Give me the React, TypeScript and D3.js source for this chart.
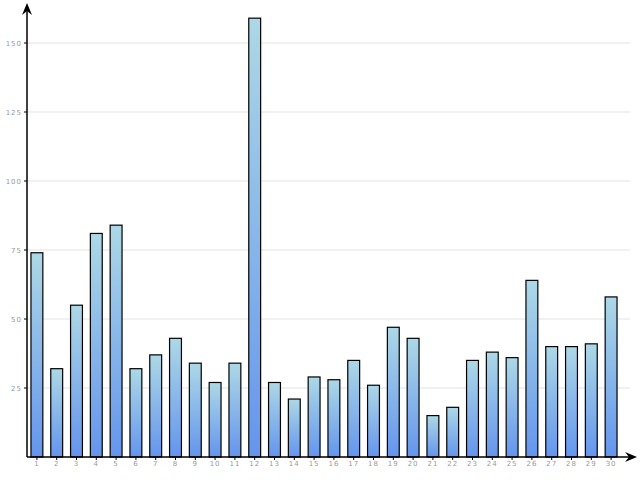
import React from "react";
import * as d3 from "d3";

const categories = Array.from({ length: 30 }, (_, i) => String(i + 1));
const values = [74, 32, 55, 81, 84, 32, 37, 43, 34, 27, 34, 159, 27, 21, 29, 28, 35, 26, 47, 43, 15, 18, 35, 38, 36, 64, 40, 40, 41, 58];
const yTicks = [25, 50, 75, 100, 125, 150];

export default function App() {
  const W = 640, H = 480;
  const x0 = 27, y0 = 457;
  const x = d3.scaleBand<string>().domain(categories).range([x0, x0 + 594]).paddingInner(0.4).paddingOuter(0.2);
  const y = d3.scaleLinear().domain([0, 25]).range([y0, y0 - 69]);
  return (
    <svg width={W} height={H} style={{ position: "absolute", left: 0, top: 0 }}>
      <defs>
        <linearGradient id="bg" x1="0" y1="0" x2="0" y2="1">
          <stop offset="0" stopColor="#add8e6" />
          <stop offset="1" stopColor="#6495ed" />
        </linearGradient>
      </defs>
      {yTicks.map((t) => (
        <g key={t}>
          <line x1={x0} x2={630} y1={y(t)} y2={y(t)} stroke="#e3e3e3" strokeWidth={1} />
          <line x1={x0 - 3} x2={x0} y1={y(t)} y2={y(t)} stroke="#000" strokeWidth={1} />
          <text x={x0 - 5} y={y(t) + 2.5} textAnchor="end" fontSize={7} letterSpacing={1} fill="#999" fontFamily="DejaVu Sans">{t}</text>
        </g>
      ))}
      {categories.map((c, i) => {
        const bx = x(c)!;
        const bw = x.bandwidth();
        return (
          <g key={c}>
            <rect x={bx} y={y(values[i])} width={bw} height={y0 - y(values[i])} fill="url(#bg)" stroke="#000" strokeWidth={1.2} />
            <line x1={bx + bw / 2} x2={bx + bw / 2} y1={y0} y2={y0 + 3} stroke="#000" />
            <text x={bx + bw / 2} y={y0 + 9} textAnchor="middle" fontSize={7} letterSpacing={1} fill="#999" fontFamily="DejaVu Sans">{c}</text>
          </g>
        );
      })}
      <line x1={x0} x2={x0} y1={y0} y2={5} stroke="#000" strokeWidth={1.5} />
      <path d={`M${x0},3 L${x0 - 5},15 L${x0},11 L${x0 + 5},15 Z`} fill="#000" />
      <line x1={x0} x2={634} y1={y0} y2={y0} stroke="#000" strokeWidth={1.5} />
      <path d={`M637,${y0} L625,${y0 - 5} L629,${y0} L625,${y0 + 5} Z`} fill="#000" />
    </svg>
  );
}
